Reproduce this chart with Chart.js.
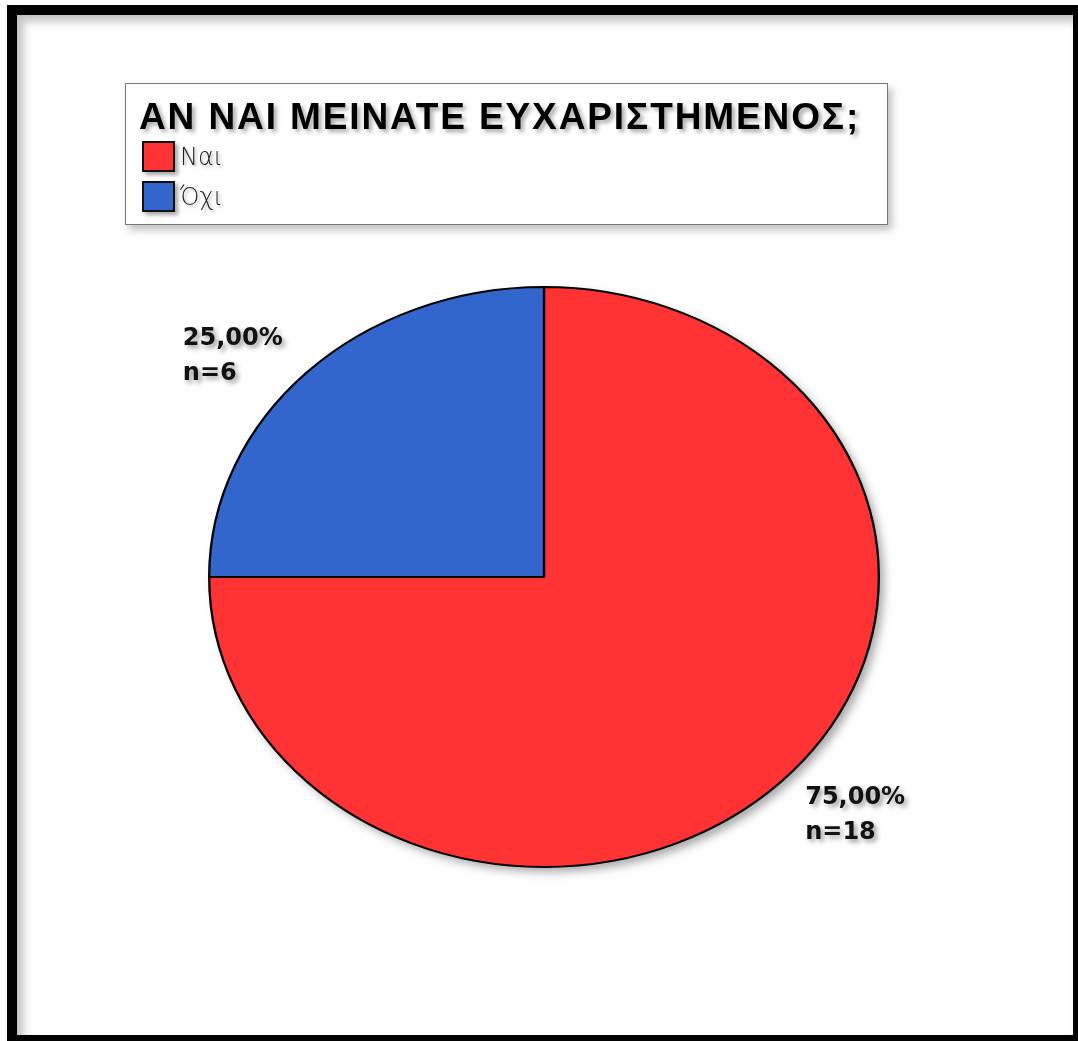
<!DOCTYPE html>
<html>
<head>
<meta charset="utf-8">
<script src="https://cdn.jsdelivr.net/npm/chart.js@4"></script>
<style>
    html, body { margin: 0; padding: 0; background: #fff; }
    #wrap { position: relative; width: 1078px; height: 1041px; overflow: hidden; background: #fff; }
    #frame {
        position: absolute; left: 7px; top: 5px; width: 1076px; height: 1040px;
        border: 10px solid #000; box-sizing: border-box;
        box-shadow: inset 6px 6px 10px rgba(0,0,0,0.25);
    }
    #chart { position: absolute; left: 0; top: 0; }
    #legend {
        position: absolute; left: 125px; top: 83px; width: 763px; height: 142px;
        box-sizing: border-box; border: 1px solid #777; background: #fff;
        box-shadow: 4px 5px 8px rgba(0,0,0,0.25);
        font-family: "Liberation Sans", Arial, sans-serif;
    }
    #legend .title {
        position: absolute; left: 13px; top: 12px; white-space: nowrap;
        font-weight: bold; font-size: 37px; letter-spacing: 1.9px; color: #000;
        text-shadow: 3px 3px 4px rgba(0,0,0,0.35);
    }
    #legend .item { position: absolute; left: 16px; height: 30px; white-space: nowrap; }
    #legend .box {
        display: inline-block; width: 29px; height: 27px; border: 2px solid #111;
        vertical-align: middle; box-shadow: 3px 3px 4px rgba(0,0,0,0.35);
    }
    #legend .txt {
        display: inline-block; vertical-align: middle; margin-left: 5px;
        font-family: "DejaVu Sans", sans-serif; font-size: 24px; color: #222;
        font-weight: 300; text-shadow: 2px 2px 3px rgba(0,0,0,0.3);
    }
</style>
</head>
<body>
<div id="wrap">
    <div id="frame"></div>
    <canvas id="chart" width="1078" height="1041"></canvas>
    <div id="legend"></div>
</div>
<script>
const legendTitle = 'ΑΝ ΝΑΙ ΜΕΙΝΑΤΕ ΕΥΧΑΡΙΣΤΗΜΕΝΟΣ;';
const categories = ['Ναι', 'Όχι'];
const counts = [18, 6];
const percents = ['75,00%', '25,00%'];
const colors = ['#ff3333', '#3366cc'];

// the original pie is an ellipse, wider than tall
const stretchX = 336 / 291;

// html legend
let legend = document.getElementById('legend');
let html = '<div class="title">' + legendTitle + '</div>';
categories.forEach((c, i) => {
    html += '<div class="item" style="top:' + (57 + i * 40) + 'px">' +
        '<span class="box" style="background:' + colors[i] + '"></span>' +
        '<span class="txt">' + c + '</span></div>';
});
legend.innerHTML = html;

const ellipsePlugin = {
    id: 'ellipse',
    beforeDatasetsDraw(chart) {
        let arc = chart.getDatasetMeta(0).data[0];
        let ctx = chart.ctx;
        ctx.save();
        ctx.translate(arc.x, arc.y);
        ctx.scale(stretchX, 1);
        ctx.translate(-arc.x, -arc.y);
        // soft shadow under the whole pie
        ctx.save();
        ctx.shadowColor = 'rgba(0,0,0,0.35)';
        ctx.shadowBlur = 10;
        ctx.shadowOffsetX = 5;
        ctx.shadowOffsetY = 5;
        ctx.beginPath();
        ctx.arc(arc.x, arc.y, arc.outerRadius, 0, Math.PI * 2);
        ctx.fillStyle = '#fff';
        ctx.fill();
        ctx.restore();
    },
    afterDatasetsDraw(chart) {
        chart.ctx.restore();
        // value labels outside the slices
        let ctx = chart.ctx;
        let meta = chart.getDatasetMeta(0);
        ctx.save();
        ctx.font = 'bold 24px "DejaVu Sans", sans-serif';
        ctx.textBaseline = 'middle';
        ctx.textAlign = 'left';
        meta.data.forEach((arc, i) => {
            let mid = (arc.startAngle + arc.endAngle) / 2;
            let r = arc.outerRadius * 1.12;
            let ax = arc.x + Math.cos(mid) * r * stretchX;
            let ay = arc.y + Math.sin(mid) * r;
            let w = ctx.measureText(percents[i]).width;
            let x = Math.cos(mid) < 0 ? ax - w + 4 : ax - 4;
            ctx.shadowColor = 'rgba(0,0,0,0.4)';
            ctx.shadowBlur = 5;
            ctx.shadowOffsetX = 3;
            ctx.shadowOffsetY = 3;
            ctx.fillStyle = '#111';
            ctx.fillText(percents[i], x, ay - 9);
            ctx.fillText('n=' + counts[i], x, ay + 26);
        });
        ctx.restore();
    }
};

new Chart(document.getElementById('chart').getContext('2d'), {
    type: 'pie',
    data: {
        labels: categories,
        datasets: [{
            data: counts,
            backgroundColor: colors,
            borderColor: '#000',
            borderWidth: 2,
        }],
    },
    options: {
        responsive: false,
        animation: false,
        layout: { padding: { top: 286, bottom: 173, left: 253, right: 243 } },
        plugins: {
            legend: { display: false },
            tooltip: { enabled: false },
        },
    },
    plugins: [ellipsePlugin],
});
</script>
</body>
</html>
